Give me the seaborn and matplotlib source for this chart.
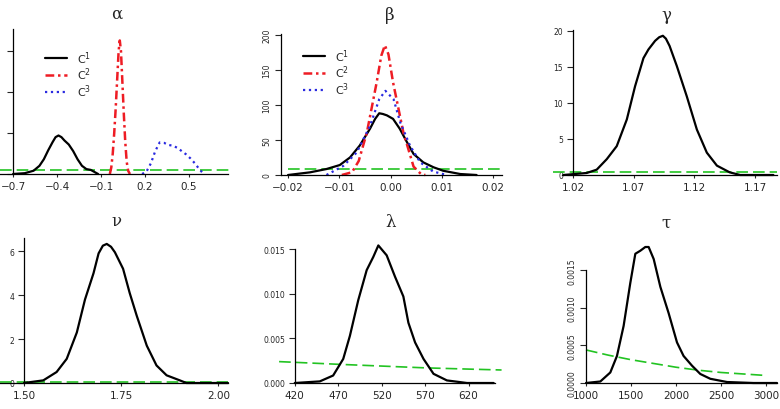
import numpy as np
import pandas as pd
import seaborn as sns
import matplotlib.pyplot as plt

# ---- alpha: three components + prior ----
alpha_c1_x = [-0.70, -0.62, -0.56, -0.52, -0.49, -0.46, -0.43, -0.41, -0.39, -0.37, -0.35,
              -0.32, -0.29, -0.26, -0.23, -0.20, -0.17, -0.14, -0.12]
alpha_c1_y = [0.0, 0.1, 0.4, 1.0, 1.8, 2.9, 3.9, 4.5, 4.7, 4.5, 4.1, 3.6, 2.8, 1.8, 1.0,
              0.6, 0.5, 0.2, 0.0]
alpha_c2_x = [-0.04, -0.03, -0.02, -0.01, 0.0, 0.01, 0.02, 0.028, 0.036, 0.045, 0.055,
              0.065, 0.075, 0.085, 0.097]
alpha_c2_y = [0.0, 0.8, 2.5, 5.0, 8.0, 11.5, 15.0, 16.3, 15.0, 11.5, 7.5, 4.0, 1.5, 0.4, 0.0]
alpha_c3_x = [0.18, 0.21, 0.24, 0.27, 0.30, 0.33, 0.36, 0.39, 0.42, 0.45, 0.48, 0.51, 0.54,
              0.57, 0.60]
alpha_c3_y = [0.0, 0.3, 1.3, 2.8, 3.85, 3.8, 3.55, 3.45, 3.2, 2.8, 2.4, 1.9, 1.3, 0.6, 0.0]
alpha_prior_x = [-0.79, 0.77]
alpha_prior_y = [0.45, 0.45]

# ---- beta ----
beta_c1_x = [-0.02, -0.0157, -0.0125, -0.0099, -0.0079, -0.006, -0.004, -0.003, -0.0022,
             -0.0015, -0.0007, 0.0005, 0.0018, 0.0032, 0.0045, 0.0064, 0.0084, 0.0103,
             0.0136, 0.0168]
beta_c1_y = [0, 3.8, 8.5, 14.2, 25, 42, 66, 80, 88, 87, 85, 80, 66, 47, 30, 18, 11, 6, 1.4, 0]
beta_c2_x = [-0.0095, -0.0075, -0.0062, -0.0046, -0.0027, -0.0018, -0.0011, -0.0004, 0.0005,
             0.0025, 0.0045, 0.006, 0.0068]
beta_c2_y = [0, 4, 20, 61, 132, 170, 185, 172, 132, 61, 12, 1, 0]
beta_c3_x = [-0.0125, -0.0092, -0.0066, -0.004, -0.0022, -0.001, 0.0006, 0.0019, 0.0038,
             0.0058, 0.0083, 0.011]
beta_c3_y = [0, 13, 32, 70, 108, 120, 108, 75, 42, 18, 5, 0]
beta_prior_x = [-0.02, 0.0218]
beta_prior_y = [8.4, 8.4]

# ---- gamma ----
gamma_x = [1.012, 1.0313, 1.0395, 1.0478, 1.056, 1.0643, 1.0711, 1.078, 1.0821, 1.0876,
           1.091, 1.094, 1.0965, 1.0995, 1.1055, 1.1137, 1.122, 1.1302, 1.1385, 1.149,
           1.1577, 1.185]
gamma_y = [0, 0.28, 0.74, 2.2, 4.0, 7.7, 12.3, 16.2, 17.4, 18.6, 19.1, 19.3, 18.9, 17.9,
           15.1, 10.9, 6.3, 3.1, 1.3, 0.37, 0, 0]
gamma_prior_x = [1.0035, 1.188]
gamma_prior_y = [0.45, 0.45]

# ---- nu ----
nu_x = [1.5, 1.5497, 1.584, 1.61, 1.636, 1.657, 1.679, 1.692, 1.703, 1.713, 1.724, 1.734,
        1.755, 1.772, 1.79, 1.816, 1.841, 1.867, 1.901, 1.918, 2.025]
nu_y = [0, 0.12, 0.5, 1.1, 2.3, 3.8, 5.0, 5.9, 6.25, 6.33, 6.2, 5.95, 5.2, 4.1, 3.07, 1.7,
        0.8, 0.35, 0.12, 0, 0]
nu_prior_x = [1.4383, 2.025]
nu_prior_y = [0.03, 0.03]

# ---- lambda ----
lam_x = [420, 448.8, 464.2, 475.8, 483.5, 493.1, 502.8, 510.4, 516.2, 525.8, 535.4, 545,
         550.8, 558.5, 568.2, 579.7, 595.1, 618.2, 648.9]
lam_y = [0, 0.00018, 0.00084, 0.0027, 0.0053, 0.0093, 0.01267, 0.01415, 0.01544, 0.01433,
         0.01193, 0.00971, 0.00676, 0.00455, 0.0027, 0.00103, 0.00029, 0, 0]
lam_prior_x = [402, 470, 520, 570, 620, 658]
lam_prior_y = [0.0024, 0.0021, 0.0019, 0.0017, 0.00156, 0.00146]

# ---- tau ----
tau_x = [1000, 1159, 1270, 1344, 1418, 1492, 1548, 1603, 1659, 1696, 1752, 1826, 1918, 2011,
         2084, 2178, 2270, 2381, 2567, 2862, 3122]
tau_y = [0, 0.00002, 0.00014, 0.00036, 0.00076, 0.00133, 0.00172, 0.00176, 0.00181, 0.00181,
         0.00165, 0.00128, 0.00093, 0.00054, 0.00036, 0.00023, 0.00012, 0.000056, 0.000013,
         0, 0]
tau_prior_x = [1000, 1250, 1500, 1750, 2000, 2250, 2500, 2750, 3000]
tau_prior_y = [0.00044, 0.00037, 0.00031, 0.00026, 0.00021, 0.00017, 0.00014, 0.00012, 0.0001]

sns.set_style("ticks")
plt.rcParams["font.family"] = ["DejaVu Sans"]

W, H = 780, 410
fig = plt.figure(figsize=(W / 100, H / 100), dpi=100)

RED = "#ee1c24"
BLUE = "#2a2ae0"
GREEN = "#22c322"
DASH = (0, (7, 3))
DASHDOT = (0, (3.5, 1.5, 1, 1.5))


def panel(l, t, r, b, xlim, ylim, xticks, yticks, xfmt, yfmt, yspine=None, ybounds=None,
          xbounds=None, show_ylab=True):
    ax = fig.add_axes([l / W, 1 - b / H, (r - l) / W, (b - t) / H])
    ax.set_xlim(xlim)
    ax.set_ylim(ylim)
    sns.despine(ax=ax)
    ax.set_xticks(xticks)
    ax.set_xticklabels([xfmt.format(v).replace("-", "\u2212") for v in xticks])
    ax.set_yticks(yticks)
    ylabs = [yfmt.format(v) for v in yticks] if show_ylab else [""] * len(yticks)
    ax.set_yticklabels(ylabs, rotation=90, va="center")
    ax.tick_params(axis="x", length=2, width=0.8, labelsize=7.5, pad=3)
    ax.tick_params(axis="y", length=4.5, width=0.8, labelsize=5.5, pad=2.5)
    for s in ("left", "bottom"):
        ax.spines[s].set_linewidth(0.9)
        ax.spines[s].set_color("black")
    if yspine is not None:
        ax.spines["left"].set_position(("data", yspine))
    if ybounds is not None:
        ax.spines["left"].set_bounds(*ybounds)
    if xbounds is not None:
        ax.spines["bottom"].set_bounds(*xbounds)
    ax.set_xlabel("")
    ax.set_ylabel("")
    return ax


def curve(ax, x, y, color, ls, lw=1.6, label=None):
    sns.lineplot(x=x, y=y, ax=ax, color=color, linestyle=ls, linewidth=lw, label=label,
                 estimator=None, sort=False, clip_on=False)


def comp_legend(ax, x0, y0):
    h, lab = ax.get_legend_handles_labels()
    ax.legend(h[-3:], lab[-3:], loc="upper left", bbox_to_anchor=(x0 / W, 1 - y0 / H),
              bbox_transform=fig.transFigure, frameon=False, fontsize=8, handlelength=2.0,
              handletextpad=0.9, labelspacing=0.0, borderpad=0, borderaxespad=0)


# alpha
ax = panel(0, 30, 228, 175, (-0.789, 0.766), (0, 17.7), [-0.7, -0.4, -0.1, 0.2, 0.5],
           [0, 5, 10, 15], "{:.1f}", "{:.0f}", yspine=-0.7, show_ylab=False)
curve(ax, alpha_prior_x, alpha_prior_y, GREEN, DASH, lw=1.2)
curve(ax, alpha_c1_x, alpha_c1_y, "black", "-", label="$\\mathregular{C^1}$")
curve(ax, alpha_c2_x, alpha_c2_y, RED, DASHDOT, lw=1.8, label="$\\mathregular{C^2}$")
curve(ax, alpha_c3_x, alpha_c3_y, BLUE, ":", lw=1.6, label="$\\mathregular{C^3}$")
comp_legend(ax, 45, 50)

# beta
ax = panel(281, 35, 502, 176, (-0.02137, 0.02176), (0, 201), [-0.02, -0.01, 0.0, 0.01, 0.02],
           [0, 50, 100, 150, 200], "{:.2f}", "{:.0f}")
curve(ax, beta_prior_x, beta_prior_y, GREEN, DASH, lw=1.2)
curve(ax, beta_c1_x, beta_c1_y, "black", "-", label="$\\mathregular{C^1}$")
curve(ax, beta_c2_x, beta_c2_y, RED, DASHDOT, lw=1.8, label="$\\mathregular{C^2}$")
curve(ax, beta_c3_x, beta_c3_y, BLUE, ":", lw=1.6, label="$\\mathregular{C^3}$")
comp_legend(ax, 303, 48)

# gamma
ax = panel(553, 31, 777, 176, (1.0035, 1.188), (0, 20.1), [1.02, 1.07, 1.12, 1.17],
           [0, 5, 10, 15, 20], "{:.2f}", "{:.0f}", yspine=1.02, xbounds=(1.0109, 1.188))
curve(ax, gamma_prior_x, gamma_prior_y, GREEN, DASH, lw=1.2)
curve(ax, gamma_x, gamma_y, "black", "-")

# nu
ax = panel(0, 239, 228, 384, (1.4383, 2.025), (0, 6.6), [1.5, 1.75, 2.0], [0, 2, 4, 6],
           "{:.2f}", "{:.0f}", yspine=1.5)
curve(ax, nu_prior_x, nu_prior_y, GREEN, DASH, lw=1.2)
curve(ax, nu_x, nu_y, "black", "-")

# lambda
ax = panel(279, 245, 502, 384, (401.9, 658.5), (0, 0.0156), [420, 470, 520, 570, 620],
           [0, 0.005, 0.010, 0.015], "{:.0f}", "{:.3f}", yspine=420, ybounds=(0, 0.015),
           xbounds=(420, 650.8))
curve(ax, lam_prior_x, lam_prior_y, GREEN, DASH, lw=1.2)
curve(ax, lam_x, lam_y, "black", "-")

# tau
ax = panel(586, 245, 777, 384, (1000, 3122), (0, 0.00185), [1000, 1500, 2000, 2500, 3000],
           [0, 0.0005, 0.0010, 0.0015], "{:.0f}", "{:.4f}", ybounds=(0, 0.0015))
curve(ax, tau_prior_x, tau_prior_y, GREEN, DASH, lw=1.2)
curve(ax, tau_x, tau_y, "black", "-")

titles = [("\u03b1", 117, 14), ("\u03b2", 390, 15), ("\u03b3", 666, 15),
          ("\u03bd", 116, 222), ("\u03bb", 391, 223), ("\u03c4", 666, 223)]
for t, x, y in titles:
    fig.text(x / W, 1 - y / H, t, ha="center", va="center", fontsize=12,
             family="DejaVu Serif")

fig.savefig("out.png", dpi=100)
